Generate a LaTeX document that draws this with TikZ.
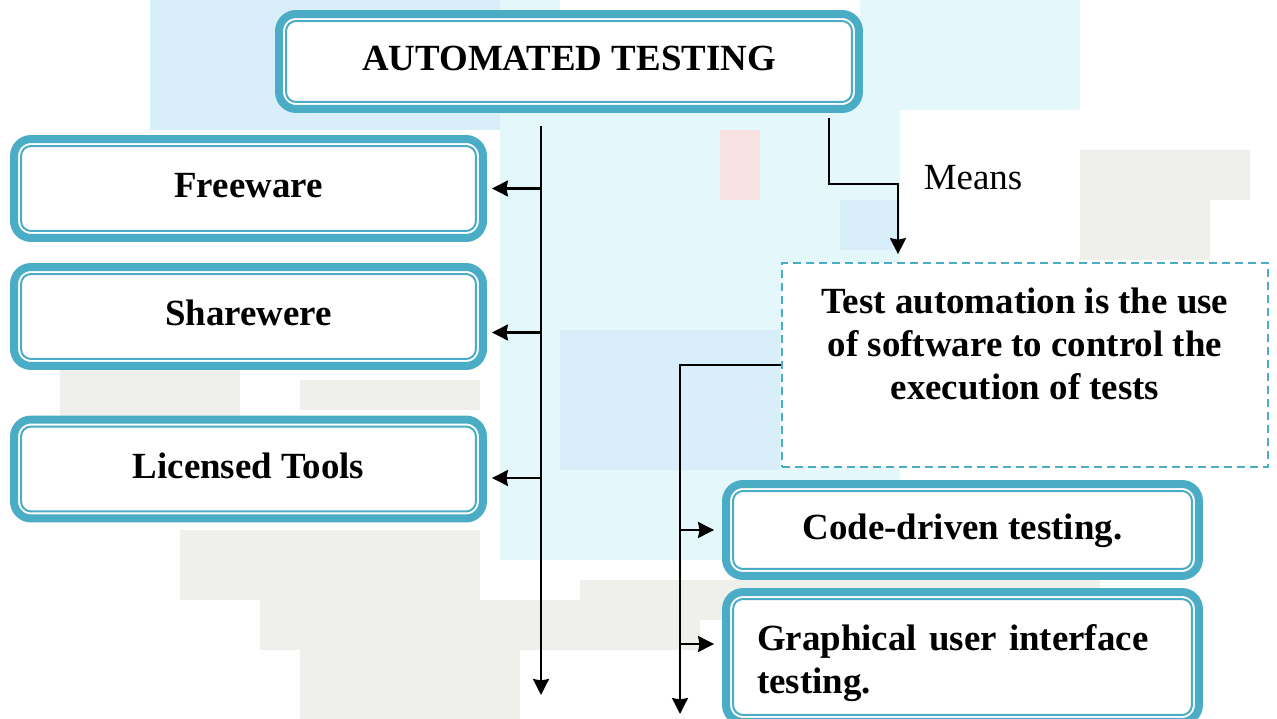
\documentclass[tikz,border=0pt]{standalone}
\usepackage{fontspec}
\setmainfont{Liberation Serif}
\usetikzlibrary{arrows.meta,positioning,calc}
\definecolor{tealline}{HTML}{4BACC6}
\definecolor{bgblue}{HTML}{D8EFF9}
\definecolor{bgcyan}{HTML}{E4F8FC}
\definecolor{bggray}{HTML}{EFEFEC}
\definecolor{bgpink}{HTML}{F8E2E2}

\begin{document}
\begin{tikzpicture}[x=0.02cm, y=-0.02cm,
        tbox/.style = {rectangle, draw=tealline, line width=0.16cm, fill=white, rounded corners=0.34cm, align=center, font=\bfseries\fontsize{21}{24.5}\selectfont, minimum width=9.38cm, minimum height=1.98cm,
            path picture={\draw[tealline, line width=0.04cm, rounded corners=0.2cm] ([shift={(0.14cm,0.14cm)}]path picture bounding box.south west) rectangle ([shift={(-0.14cm,-0.14cm)}]path picture bounding box.north east);}},
        oneline/.style = {text height=0.5cm, text depth=0.12cm},
        defbox/.style = {rectangle, draw=tealline, line width=0.035cm, dash pattern=on 0.16cm off 0.1cm, fill=white, align=center, font=\bfseries\fontsize{21}{24.5}\selectfont, minimum width=9.72cm, minimum height=4.08cm},
        lbl/.style = {font=\fontsize{21}{24}\selectfont},
        arr/.style = {-{Stealth[length=0.32cm, width=0.32cm, inset=0.03cm]}, line width=0.045cm, draw=black}
    ]
        \useasboundingbox (0,0) rectangle (1277,719);

        % Background mosaic
        \fill[bgblue] (150,0) rectangle (500,130);
        \fill[bgcyan] (500,0) rectangle (560,130);
        \fill[bgcyan] (860,0) rectangle (1080,110);
        \fill[bgcyan] (500,100) rectangle (900,560);
        \fill[bgblue] (560,330) rectangle (780,470);
        \fill[bgblue] (840,200) rectangle (900,250);
        \fill[bgpink] (720,130) rectangle (760,200);
        \fill[bggray] (1080,150) rectangle (1250,200);
        \fill[bggray] (1080,200) rectangle (1210,260);
        \fill[bggray] (60,370) rectangle (240,420);
        \fill[bggray] (300,380) rectangle (480,410);
        \fill[bggray] (180,530) rectangle (480,600);
        \fill[bggray] (260,600) rectangle (700,650);
        \fill[bggray] (300,650) rectangle (520,719);
        \fill[bggray] (580,580) rectangle (1100,620);

        % Top: title
        \node[tbox, oneline, minimum width=11.6cm, minimum height=1.9cm] (top) at (569,61.5) {AUTOMATED TESTING};

        % Left column: kinds of tools
        \node[tbox, oneline] (free) at (248.5,188.5) {Freeware};
        \node[tbox, oneline] (share) at (248.5,316.5) {Sharewere};
        \node[tbox, oneline] (lic) at (248.5,469) {Licensed Tools};

        % Right column: meaning and kinds of testing
        \node[defbox] (def) at (1025,365) {Test automation is the use\\of software to control the\\execution of tests\\~};
        \node[lbl] (means) at (973,178) {Means};
        \node[tbox, oneline, minimum width=9.46cm, minimum height=1.84cm] (code) at (962.5,530) {Code-driven testing.};
        \node[tbox, align=left, text width=8.22cm, inner xsep=0.62cm, text height=0.76cm, minimum height=2.6cm] (gui) at (962.5,657) {Graphical user interface\\testing.};

        % Left trunk
        \coordinate (trunkend) at (541,695);
        \draw[arr] ($(top.south -| trunkend)+(0,13)$) -- (trunkend);
        \draw[arr, shorten >=0.1cm] (free.east -| trunkend) -- (free.east);
        \draw[arr, shorten >=0.1cm] ($(share.east -| trunkend)+(0,16)$) -- ($(share.east)+(0,16)$);
        \draw[arr, shorten >=0.1cm] ($(lic.east -| trunkend)+(0,9)$) -- ($(lic.east)+(0,9)$);

        % Means
        \draw[arr, shorten >=0.16cm] ($(top.south)+(260,5)$) -- ++(0,66) -| ($(def.north)+(-127,0)$);

        % Right trunk
        \coordinate (lowend) at (680,714);
        \draw[arr] (def.west) -| (lowend);
        \draw[arr, shorten >=0.16cm] (code.west -| lowend) -- (code.west);
        \draw[arr, shorten >=0.16cm] ($(gui.west -| lowend)+(0,-13)$) -- ($(gui.west)+(0,-13)$);

    \end{tikzpicture}
\end{document}
